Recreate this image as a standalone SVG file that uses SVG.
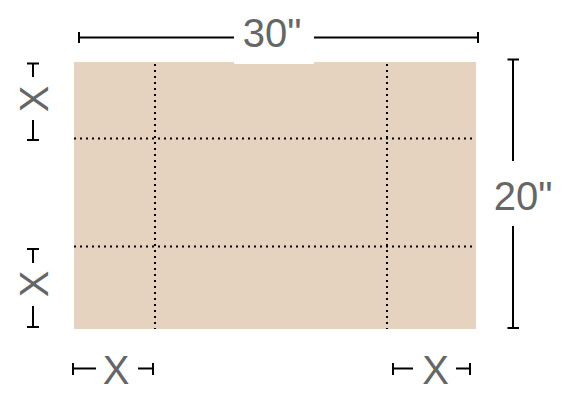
<svg xmlns="http://www.w3.org/2000/svg" width="566" height="402" viewBox="0 0 566 402">
<style>
.dim{stroke:#000;stroke-width:2;fill:none}
.dot{stroke:#000;stroke-width:2;stroke-dasharray:2 4;fill:none}
.lbl{font-family:"Liberation Sans",Arial,sans-serif;font-size:40px;fill:#666;text-anchor:middle}
</style>
<rect width="566" height="402" fill="#fff"/>
<g id="board">
<rect x="74" y="62" width="402" height="267" fill="#e6d3bf"/>
<rect x="234" y="54" width="80" height="10" fill="#fff"/>
</g>
<g id="folds">
<line class="dot" x1="74" y1="138.5" x2="476" y2="138.5"/>
<line class="dot" x1="74" y1="246.5" x2="476" y2="246.5"/>
<line class="dot" x1="155" y1="64" x2="155" y2="329"/>
<line class="dot" x1="387" y1="64" x2="387" y2="329"/>
</g>
<g id="dim-width">
<path class="dim" d="M79 37.5H234M314 37.5H478M79 32V43M478 32V43"/>
<text class="lbl" x="272" y="47">30"</text>
</g>
<g id="dim-height">
<path class="dim" d="M513 59.5V161M513 226V328M507.5 59.5H519M507.5 328H519"/>
<text class="lbl" x="523" y="210">20"</text>
</g>
<g id="dim-x-left-top">
<path class="dim" d="M33 63.5V77M33 120V140M27 63.5H39M27 140H39"/>
<text class="lbl" transform="translate(47.5 99) rotate(-90)">X</text>
</g>
<g id="dim-x-left-bottom">
<path class="dim" d="M33 249V263M33 306V327M27 249H39M27 327H39"/>
<text class="lbl" transform="translate(47.5 284) rotate(-90)">X</text>
</g>
<g id="dim-x-bottom-left">
<path class="dim" d="M73 368.5H96M138 368.5H153M73 363V375M153 363V375"/>
<text class="lbl" x="116" y="384">X</text>
</g>
<g id="dim-x-bottom-right">
<path class="dim" d="M393 368.5H413M456 368.5H470M393 363V375M470 363V375"/>
<text class="lbl" x="435.5" y="384">X</text>
</g>
</svg>
